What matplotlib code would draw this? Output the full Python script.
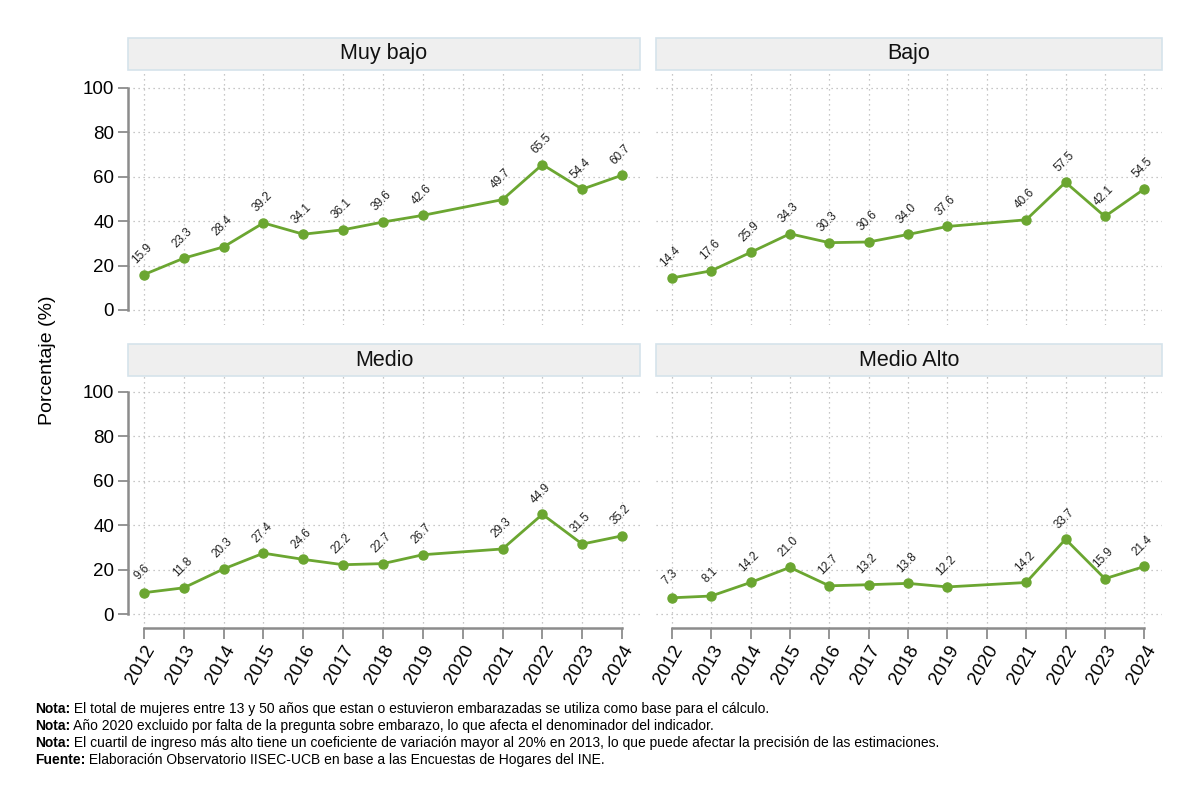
import numpy as np
import matplotlib
matplotlib.use("Agg")
import matplotlib.pyplot as plt
from matplotlib.patches import Rectangle

plt.rcParams['font.family'] = ['Liberation Sans', 'DejaVu Sans']

# datos
years = [2012, 2013, 2014, 2015, 2016, 2017, 2018, 2019, 2021, 2022, 2023, 2024]
tick_years = list(range(2012, 2025))
muy_bajo = [15.9, 23.3, 28.4, 39.2, 34.1, 36.1, 39.6, 42.6, 49.7, 65.5, 54.4, 60.7]
bajo = [14.4, 17.6, 25.9, 34.3, 30.3, 30.6, 34.0, 37.6, 40.6, 57.5, 42.1, 54.5]
medio = [9.6, 11.8, 20.3, 27.4, 24.6, 22.2, 22.7, 26.7, 29.3, 44.9, 31.5, 35.2]
medio_alto = [7.3, 8.1, 14.2, 21.0, 12.7, 13.2, 13.8, 12.2, 14.2, 33.7, 15.9, 21.4]
titles = ["Muy bajo", "Bajo", "Medio", "Medio Alto"]
series = [muy_bajo, bajo, medio, medio_alto]

notas = [
    ("Nota:", " El total de mujeres entre 13 y 50 años que estan o estuvieron embarazadas se utiliza como base para el cálculo."),
    ("Nota:", " Año 2020 excluido por falta de la pregunta sobre embarazo, lo que afecta el denominador del indicador."),
    ("Nota:", " El cuartil de ingreso más alto tiene un coeficiente de variación mayor al 20% en 2013, lo que puede afectar la precisión de las estimaciones."),
    ("Fuente:", " Elaboración Observatorio IISEC-UCB en base a las Encuestas de Hogares del INE."),
]

W, H = 1200, 801
fig = plt.figure(figsize=(W / 100, H / 100), dpi=100)

green = '#6BA631'
grey = '#8c8c8c'

# (x0, x1, y_top_strip, y_axis_top, y_axis_bottom) en pixeles
boxes = [
    (128, 640, 38, 70, 325),
    (656, 1162, 38, 70, 325),
    (128, 640, 344, 376, 628),
    (656, 1162, 344, 376, 628),
]

for i, (x0, x1, ys, yt, yb) in enumerate(boxes):
    ax = fig.add_axes([x0 / W, 1 - yb / H, (x1 - x0) / W, (yb - yt) / H])
    vals = series[i]
    ax.plot(years, vals, color=green, lw=2, marker='o', ms=6.5, zorder=3)
    for x, v in zip(years, vals):
        ax.annotate(f"{v:.1f}", (x, v), xytext=(-1, 15), textcoords='offset points',
                    rotation=45, ha='center', va='center', fontsize=8.5, color='#222222')
    ax.set_xlim(2011.6, 2024.45)
    ax.set_ylim(-6.8 if i < 2 else -6.3, 108.1 if i < 2 else 107.2)
    ax.set_yticks(range(0, 101, 20))
    ax.set_xticks(tick_years)
    ax.grid(True, color='#b5b5b5', linestyle=(0, (1, 3)), lw=0.9)
    ax.set_axisbelow(True)
    for s in ['top', 'right']:
        ax.spines[s].set_visible(False)
    left = i % 2 == 0
    bottom = i >= 2
    if left:
        ax.spines['left'].set_bounds(0, 100)
        ax.spines['left'].set_color(grey)
        ax.spines['left'].set_linewidth(1.8)
        ax.tick_params(axis='y', length=7, width=1.3, color=grey, labelsize=13.5, pad=3)
    else:
        ax.spines['left'].set_visible(False)
        ax.tick_params(axis='y', length=0, labelleft=False)
    if bottom:
        ax.spines['bottom'].set_bounds(2012, 2024)
        ax.spines['bottom'].set_color(grey)
        ax.spines['bottom'].set_linewidth(1.8)
        ax.tick_params(axis='x', length=8, width=1.3, color=grey, labelsize=13.5, pad=2)
        for lab in ax.get_xticklabels():
            lab.set_rotation(60)
            lab.set_ha('right')
            lab.set_rotation_mode('anchor')
    else:
        ax.spines['bottom'].set_visible(False)
        ax.tick_params(axis='x', length=0, labelbottom=False)
    ax.patch.set_visible(False)
    # cabecera
    fig.patches.append(Rectangle((x0 / W, 1 - yt / H), (x1 - x0) / W, (yt - ys) / H,
                                 transform=fig.transFigure, facecolor='#efefef',
                                 edgecolor='#d5e3eb', lw=1.2))
    fig.text((x0 + x1) / 2 / W, 1 - (ys + yt) / 2 / H, titles[i], ha='center', va='center',
             fontsize=15.5, color='#111111')

fig.text(48 / W, 1 - 360 / H, "Porcentaje (%)", rotation=90, ha='center', va='center', fontsize=14)

for k, (b, rest) in enumerate(notas):
    y = 1 - (709 + 17 * k) / H
    t = fig.text(35 / W, y, b, fontweight='bold', fontsize=10, va='center', ha='left')
    fig.add_artist(plt.Annotation(rest, xy=(1, 0.5), xycoords=t, va='center', ha='left', fontsize=10))

fig.savefig("out.png", dpi=100)
